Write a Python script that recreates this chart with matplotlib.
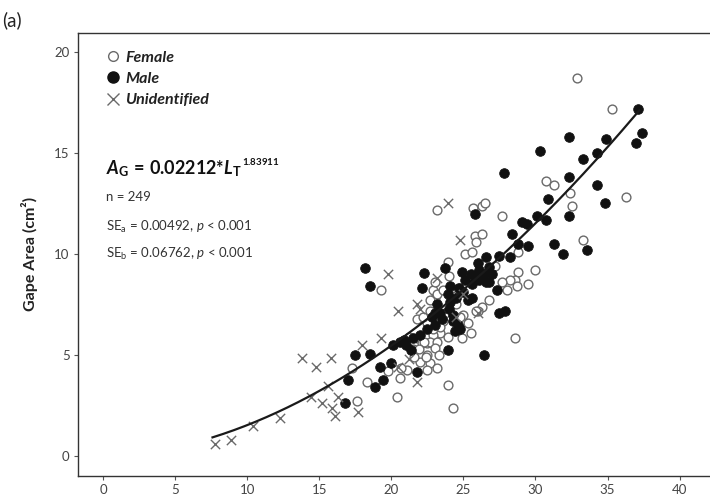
import matplotlib
matplotlib.use("Agg")
import matplotlib.pyplot as plt
from matplotlib.lines import Line2D
import numpy as np

plt.rcParams['font.family'] = ['Lato', 'DejaVu Sans']
plt.rcParams['mathtext.fontset'] = 'custom'
plt.rcParams['mathtext.rm'] = 'Lato'
plt.rcParams['mathtext.it'] = 'Lato:italic'
plt.rcParams['mathtext.bf'] = 'Lato:bold'
plt.rcParams['mathtext.bfit'] = 'Lato:bold:italic'

# ---- data (total length cm, gape area cm^2) ----
female_x = [32.9, 35.3, 36.3, 30.7, 31.3, 32.4, 32.5, 33.3, 23.2, 25.7, 26.3, 26.5,
            27.7, 25.8, 26.3, 25.9, 25.1, 25.6, 28.8, 19.3, 23.9, 22.9, 23.0, 22.7,
            23.2, 23.6, 23.0, 26.3, 28.8, 28.6, 28.2, 27.7, 28.7, 28.0, 28.6, 24.9,
            21.8, 22.5, 21.2, 21.8, 22.1, 22.5, 22.8, 22.5, 22.7, 23.2, 22.5, 22.0,
            21.6, 20.6, 21.1, 20.7, 18.3, 20.4, 23.9, 24.3, 17.6, 17.3, 23.4, 22.9,
            22.7, 22.3, 23.2, 23.0, 23.9, 26.0, 25.3, 24.5, 30.0, 29.5, 25.9, 23.7,
            23.6, 23.4, 22.7, 22.2, 24.2, 25.0, 21.5, 19.8, 24.0, 24.6, 25.5, 23.3,
            21.9, 22.9, 26.8, 27.2, 24.8, 22.4]
female_y = [18.7, 17.2, 12.8, 13.6, 13.4, 13.0, 12.4, 10.7, 12.2, 12.3, 12.4, 12.5,
            11.9, 10.9, 11.0, 10.6, 10.0, 10.1, 10.1, 8.2, 9.6, 8.2, 7.8, 7.7,
            8.0, 8.2, 8.6, 7.4, 9.1, 8.7, 8.7, 8.6, 8.4, 8.2, 5.85, 5.85,
            6.8, 6.6, 5.9, 5.85, 5.6, 5.6, 5.6, 5.0, 4.6, 4.35, 4.25, 4.65,
            4.9, 3.85, 4.25, 4.35, 3.65, 2.9, 3.5, 2.4, 2.7, 4.35, 6.1, 6.0,
            5.65, 5.65, 5.65, 5.35, 5.9, 7.2, 6.6, 7.5, 9.2, 8.5, 7.2, 7.1,
            6.7, 6.4, 7.2, 6.9, 7.9, 7.0, 5.3, 4.2, 8.9, 8.3, 6.1, 5.0,
            5.3, 6.3, 7.7, 9.4, 6.9, 4.9]

male_x = [37.1, 37.4, 37.0, 32.3, 34.9, 30.3, 33.3, 34.3, 27.8, 32.3, 34.3, 30.9,
          34.8, 32.3, 25.8, 29.1, 29.4, 30.1, 30.7, 28.4, 28.8, 29.5, 31.3, 31.9,
          33.6, 26.6, 27.5, 28.2, 18.2, 18.5, 22.3, 22.1, 23.7, 24.1, 23.9, 25.1,
          25.6, 25.5, 26.1, 26.6, 26.4, 26.0, 26.1, 26.8, 27.3, 25.3, 25.6, 27.5,
          27.9, 26.8, 24.1, 23.4, 23.0, 22.8, 24.3, 24.6, 24.8, 24.4, 23.9, 26.4,
          20.1, 20.6, 20.9, 21.5, 21.4, 19.2, 20.0, 21.8, 18.9, 19.4, 17.5, 18.5,
          17.0, 16.8, 22.5, 23.0, 23.5, 24.0, 24.5, 21.0, 25.0, 24.7, 24.9, 25.8,
          23.2, 22.0, 27.0, 24.3]
male_y = [17.2, 16.0, 15.5, 15.8, 15.7, 15.1, 14.7, 15.0, 14.0, 13.8, 13.4, 12.7,
          12.5, 11.9, 12.0, 11.6, 11.5, 11.9, 11.7, 11.0, 10.5, 10.4, 10.5, 10.0,
          10.2, 9.85, 9.9, 9.85, 9.3, 8.4, 9.05, 8.3, 9.3, 8.4, 8.0, 8.7,
          8.5, 9.0, 8.7, 8.6, 9.0, 9.55, 9.2, 9.35, 8.2, 7.7, 7.8, 7.1,
          7.2, 8.6, 7.6, 7.1, 7.1, 6.9, 6.7, 6.5, 6.3, 6.2, 5.25, 5.0,
          5.5, 5.65, 5.75, 5.85, 5.25, 4.4, 4.6, 4.15, 3.4, 3.75, 5.0, 5.05,
          3.75, 2.6, 6.3, 6.5, 6.8, 7.3, 7.8, 5.5, 8.1, 8.3, 9.1, 8.9,
          7.5, 6.0, 9.0, 7.0]

unid_x = [7.8, 8.9, 10.4, 12.3, 13.8, 14.8, 15.8, 18.0, 19.3, 15.6, 14.4, 15.2,
          15.9, 16.3, 16.1, 17.7, 19.8, 20.5, 21.8, 24.8, 23.9, 21.8, 23.2, 26.0,
          22.0, 24.5, 21.2, 25.0, 20.5]
unid_y = [0.6, 0.8, 1.5, 1.9, 4.85, 4.4, 4.85, 5.5, 5.85, 3.45, 2.9, 2.6,
          2.4, 2.9, 2.0, 2.2, 9.0, 7.2, 7.5, 10.7, 12.5, 3.65, 8.8, 7.1,
          7.3, 6.9, 4.8, 8.0, 4.4]

coef_a = 0.02212
coef_b = 1.83911
fit_range = [7.6, 37.2]

legend_labels = ["Female", "Male", "Unidentified"]
x_ticks = [0, 5, 10, 15, 20, 25, 30, 35, 40]
y_ticks = [0, 5, 10, 15, 20]

# ---- figure ----
fig = plt.figure(figsize=(7.10, 4.99), dpi=100)
ax = fig.add_axes([78/710, 23/499, (720-78)/710, (476-33)/499])

ax.scatter(female_x, female_y, s=40, facecolors='white', edgecolors='#6a6a6a',
           linewidths=1.0, zorder=2)
ax.scatter(male_x, male_y, s=48, facecolors='#111111', edgecolors='#111111',
           linewidths=0.6, zorder=3)
ax.scatter(unid_x, unid_y, s=45, marker='x', c='#6a6a6a', linewidths=1.0, zorder=3)

xf = np.linspace(fit_range[0], fit_range[1], 200)
ax.plot(xf, coef_a * xf ** coef_b, color='#1a1a1a', lw=1.6, zorder=4)

ax.set_xlim(-1.73, 42.8)
ax.set_ylim(-0.99, 20.94)
ax.set_xticks(x_ticks)
ax.set_yticks(y_ticks)
ax.tick_params(axis='both', direction='out', length=3, width=0.8, color='#555555',
               labelsize=9.5, labelcolor='#444444', pad=3)
for sp in ax.spines.values():
    sp.set_color('#333333')
    sp.set_linewidth(1.0)

# legend
handles = [
    Line2D([], [], ls='', marker='o', ms=7, mfc='white', mec='#6a6a6a', mew=1.0),
    Line2D([], [], ls='', marker='o', ms=8, mfc='#111111', mec='#111111'),
    Line2D([], [], ls='', marker='x', ms=8, color='#6a6a6a', mew=1.0),
]
leg = ax.legend(handles, legend_labels, loc='upper left', frameon=False,
                bbox_to_anchor=(0.03, 0.975), handletextpad=0.15, handlelength=1.2,
                labelspacing=0.45, borderaxespad=0.0,
                prop={'family': 'Lato', 'weight': 'bold', 'style': 'italic', 'size': 11.5})
for t in leg.get_texts():
    t.set_color('#222222')

# equation and stats
eq = ax.text(0.043, 0.680,
             r"$\mathbfit{A}_{\mathbf{G}}\,\mathbf{=}\,\mathbf{0.02212{*}}\mathbfit{L}_{\mathbf{T}}$",
             transform=ax.transAxes, fontsize=13, color='#111111', va='baseline')
ax.annotate(r"$\mathbf{1.83911}$", xy=(1.0, 0.62), xycoords=eq, xytext=(0.5, 0),
            textcoords='offset points', fontsize=7, color='#111111',
            ha='left', va='bottom')
ax.text(0.043, 0.620, "n = 249", transform=ax.transAxes, fontsize=9.5,
        color='#333333', va='baseline')
ax.text(0.043, 0.553, r"SE$_{\mathrm{a}}$ = 0.00492, $\mathit{p}$ < 0.001",
        transform=ax.transAxes, fontsize=9.5, color='#333333', va='baseline')
ax.text(0.043, 0.492, r"SE$_{\mathrm{b}}$ = 0.06762, $\mathit{p}$ < 0.001",
        transform=ax.transAxes, fontsize=9.5, color='#333333', va='baseline')

fig.text(30/710, 1 - 254/499, "Gape Area (cm²)", rotation=90, ha='center',
         va='center', fontsize=11.5, fontweight='bold', color='#222222')
fig.text(2/710, 1 - 20/499, "(a)", ha='left', va='center', fontsize=13.5,
         color='#222222')

fig.savefig("out.png", dpi=100)
